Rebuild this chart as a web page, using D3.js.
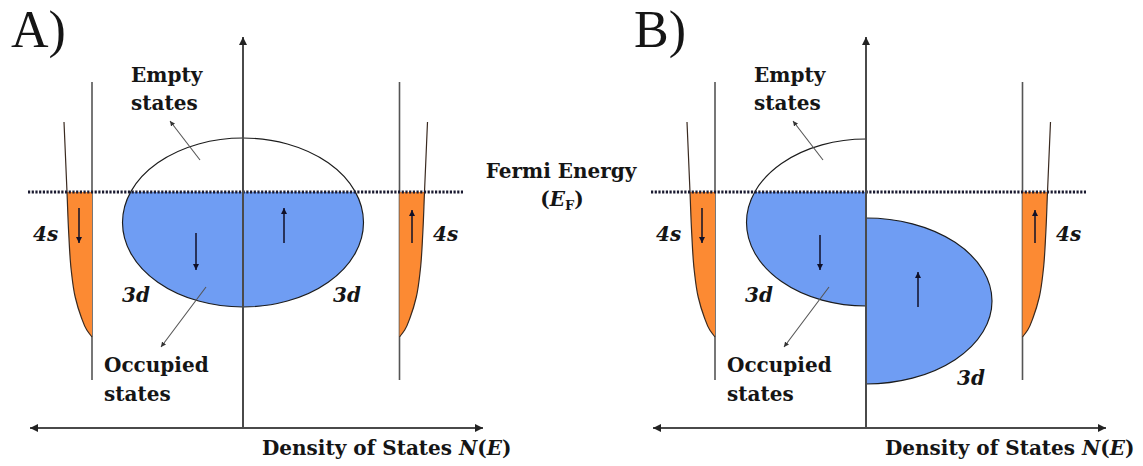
<!DOCTYPE html>
<html>
<head>
<meta charset="utf-8">
<script src="https://cdn.jsdelivr.net/npm/d3@7"></script>
<style>
  body { margin: 0; background: #fff; }
  svg { display: block; }
  .lbl { font-family: "DejaVu Serif", serif; font-weight: bold; fill: #151515; }
</style>
</head>
<body>
<svg id="chart" width="1143" height="466"></svg>
<script>
// Schematic spin-resolved density of states: (A) paramagnetic, (B) exchange-split 3d band.
// Energy E runs vertically (Fermi level = 0), density of states N horizontally
// (spin-down to the left, spin-up to the right). Arbitrary units.

const panelLabels = ["A)", "B)"];
const fermiEnergy = 0;
const energyExtent = [-23.6, 15.5];
const dosExtent = [-21.3, 24];
const fermiLineExtent = [-21.5, 22];

// 3d band of each panel: [spin-down, spin-up]
const band3dCentre    = [[-3.05, -3.05], [-3.05, -10.9]];
const band3dHalfWidth = [[8.45, 8.45],   [8.35, 8.3]];
const band3dPeak      = [[12.05, 12.05], [11.95, 12.6]];

// 4s band profile (energy, DOS) and where each spin channel sits on the DOS axis
const band4sEnergy = [7.0, 0, -4.1, -7.8, -10.5, -12.5, -13.8, -14.5];
const band4sDos    = [2.8, 2.5, 2.33, 2.08, 1.68, 1.08, 0.52, 0];
const band4sBase   = [-15.1, 15.65];
const band4sRail   = [11, -18.8];

// spin arrows: DOS position, [from, to] energies
const arrow3dDos    = [[-4.7, 4.1], [-4.6, 5.2]];
const arrow3dEnergy = [[[-4.1, -7.8], [-5.1, -1.6]], [[-4.3, -7.8], [-11.5, -8.0]]];
const arrow4sDos    = [-16.4, 16.9];
const arrow4sEnergy = [[-1.6, -5.1], [-5.1, -1.8]];

// annotation pointers: [DOS, energy] from -> to
const emptyPointer    = [[-4.3, 3.2], [-7.3, 7.1]];
const occupiedPointer = [[-3.7, -9.5], [-8.2, -15.5]];

const emptyText    = ["Empty", "states"];
const occupiedText = ["Occupied", "states"];
const fermiText    = "Fermi Energy";
const axisText     = "Density of States ";

const BLUE = "#6f9df3", ORANGE = "#fc8a33", INK = "#151515";
const W = 1143, H = 466, panelShift = 623;

const svg = d3.select("#chart");
const defs = svg.append("defs");

function marker(id, w, h, color) {
  defs.append("marker")
    .attr("id", id)
    .attr("viewBox", "0 0 10 10")
    .attr("refX", 10).attr("refY", 5)
    .attr("markerUnits", "userSpaceOnUse")
    .attr("markerWidth", w).attr("markerHeight", h)
    .attr("orient", "auto-start-reverse")
    .append("path").attr("d", "M0,0L10,5L0,10Z").attr("fill", color);
}
marker("axisHead", 9, 8, "#222");
marker("spinHead", 7, 6, "#101028");
marker("pointerHead", 5, 5, "#333");

panelLabels.forEach((label, p) => {
  const x = d3.scaleLinear().domain(dosExtent).range([30 + p * panelShift, 483 + p * panelShift]);
  const y = d3.scaleLinear().domain(energyExtent).range([428, 37]);
  const g = svg.append("g");

  // clip regions: each spin half and everything below the Fermi level
  [0, 1].forEach(s => {
    defs.append("clipPath").attr("id", `half-${p}-${s}`)
      .append("rect")
      .attr("x", s === 0 ? x(dosExtent[0]) - 5 : x(0))
      .attr("width", s === 0 ? x(0) - x(dosExtent[0]) + 5 : x(dosExtent[1]) - x(0) + 5)
      .attr("y", 0).attr("height", H);
  });
  defs.append("clipPath").attr("id", `below-${p}`)
    .append("rect").attr("x", 0).attr("width", W)
    .attr("y", y(fermiEnergy)).attr("height", H);

  // 4s bands
  const pts = band4sEnergy.map((e, i) => ({ e, n: band4sDos[i] }));
  band4sBase.forEach((base, s) => {
    const dir = s === 0 ? -1 : 1;
    g.append("line")
      .attr("x1", x(base)).attr("x2", x(base))
      .attr("y1", y(band4sRail[0])).attr("y2", y(band4sRail[1]))
      .attr("stroke", "#555").attr("stroke-width", 1.6);
    const filled = pts.filter(d => d.e <= fermiEnergy);
    g.append("path")
      .datum(filled)
      .attr("d", d3.area().curve(d3.curveMonotoneY)
        .y(d => y(d.e)).x0(x(base)).x1(d => x(base + dir * d.n)))
      .attr("fill", ORANGE);
    g.append("path")
      .datum(pts)
      .attr("d", d3.line().curve(d3.curveMonotoneY)
        .x(d => x(base + dir * d.n)).y(d => y(d.e)))
      .attr("fill", "none").attr("stroke", "#3a2a20").attr("stroke-width", 1.2);
  });

  // 3d bands: one half-ellipse per spin channel, occupied part shaded
  [0, 1].forEach(s => {
    const c = band3dCentre[p][s], hw = band3dHalfWidth[p][s], pk = band3dPeak[p][s];
    const hg = g.append("g").attr("clip-path", `url(#half-${p}-${s})`);
    const shape = sel => sel
      .attr("cx", x(0)).attr("cy", y(c))
      .attr("rx", Math.abs(x(pk) - x(0)))
      .attr("ry", Math.abs(y(c - hw) - y(c)));
    hg.append("ellipse").call(shape)
      .attr("fill", BLUE).attr("clip-path", `url(#below-${p})`);
    hg.append("ellipse").call(shape)
      .attr("fill", "none").attr("stroke", "#1c1c1c").attr("stroke-width", 1.15);
  });

  // Fermi level
  g.append("line")
    .attr("x1", x(fermiLineExtent[0])).attr("x2", x(fermiLineExtent[1]))
    .attr("y1", y(fermiEnergy)).attr("y2", y(fermiEnergy))
    .attr("stroke", "#1a1a30").attr("stroke-width", 2.8)
    .attr("stroke-dasharray", "2.2,1.5");

  // axes
  g.append("line")
    .attr("x1", x(0)).attr("x2", x(0))
    .attr("y1", y(energyExtent[0])).attr("y2", y(energyExtent[1]))
    .attr("stroke", "#4a4a4a").attr("stroke-width", 2)
    .attr("marker-end", "url(#axisHead)");
  g.append("line")
    .attr("x1", x(dosExtent[0])).attr("x2", x(dosExtent[1]))
    .attr("y1", y(energyExtent[0])).attr("y2", y(energyExtent[0]))
    .attr("stroke", "#4a4a4a").attr("stroke-width", 2)
    .attr("marker-start", "url(#axisHead)")
    .attr("marker-end", "url(#axisHead)");

  // spin arrows
  const spinArrow = (n, e) => g.append("line")
    .attr("x1", x(n)).attr("x2", x(n))
    .attr("y1", y(e[0])).attr("y2", y(e[1]))
    .attr("stroke", "#101028").attr("stroke-width", 1.5)
    .attr("marker-end", "url(#spinHead)");
  [0, 1].forEach(s => {
    spinArrow(arrow3dDos[p][s], arrow3dEnergy[p][s]);
    spinArrow(arrow4sDos[s], arrow4sEnergy[s]);
  });

  // annotation pointers
  [emptyPointer, occupiedPointer].forEach(ptr => {
    g.append("line")
      .attr("x1", x(ptr[0][0])).attr("y1", y(ptr[0][1]))
      .attr("x2", x(ptr[1][0])).attr("y2", y(ptr[1][1]))
      .attr("stroke", "#555").attr("stroke-width", 1.1)
      .attr("marker-end", "url(#pointerHead)");
  });

  // texts
  g.append("text").text(label)
    .attr("x", x(-23.2)).attr("y", y(14.5))
    .attr("font-family", "Liberation Serif, serif").attr("font-size", 52).attr("fill", INK);

  const twoLines = (lines, n, e0, e1) => lines.forEach((t, i) =>
    g.append("text").attr("class", "lbl").attr("font-size", 20)
      .attr("x", x(n)).attr("y", y(i === 0 ? e0 : e1)).text(t));
  twoLines(emptyText, -11.2, 11.0, 8.2);
  twoLines(occupiedText, -13.9, -18.0, -20.9);

  const orbital = (num, letter, n, e) => {
    const t = g.append("text").attr("class", "lbl").attr("font-size", 20)
      .attr("font-style", "italic").attr("x", x(n)).attr("y", y(e));
    t.append("tspan").text(num);
    t.append("tspan").text(letter);
  };
  orbital("4", "s", -21.0, -4.9);
  orbital("4", "s", 19.0, -4.9);
  orbital("3", "d", -12.1, -11.0);
  if (p === 0) orbital("3", "d", 9.0, -11.0);
  else orbital("3", "d", 9.1, -19.3);

  const ax = g.append("text").attr("class", "lbl").attr("font-size", 20)
    .attr("x", x(1.9)).attr("y", y(-26.3));
  ax.append("tspan").text(axisText);
  ax.append("tspan").attr("font-style", "italic").text("N");
  ax.append("tspan").text("(");
  ax.append("tspan").attr("font-style", "italic").text("E");
  ax.append("tspan").text(")");

  if (p === 0) {
    g.append("text").attr("class", "lbl").attr("font-size", 20)
      .attr("text-anchor", "middle").attr("x", x(31.8)).attr("y", y(1.4)).text(fermiText);
    const ef = g.append("text").attr("class", "lbl").attr("font-size", 20)
      .attr("text-anchor", "middle").attr("x", x(31.9)).attr("y", y(-1.4));
    ef.append("tspan").text("(");
    ef.append("tspan").attr("font-style", "italic").text("E");
    ef.append("tspan").attr("font-size", 13).attr("dy", 4).text("F");
    ef.append("tspan").attr("dy", -4).text(")");
  }
});
</script>
</body>
</html>
